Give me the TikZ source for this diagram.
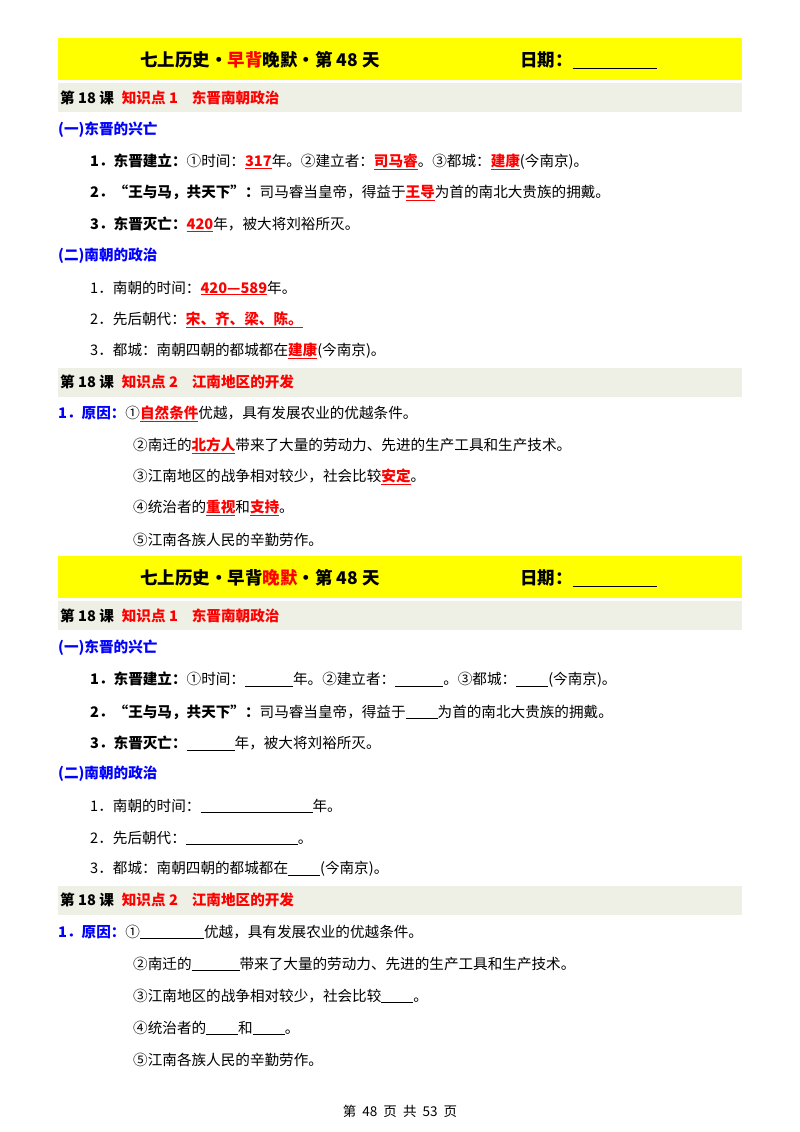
\documentclass[tikz,border=0pt]{standalone}
\usepackage{fontspec}
\setmainfont{Noto Sans CJK SC}
\definecolor{ban}{HTML}{FFFF00}
\definecolor{bar}{HTML}{EEF0E5}
\definecolor{ansred}{HTML}{FF0000}
\definecolor{hblue}{HTML}{0000FF}
\newcommand{\ans}[1]{\textcolor{ansred}{\underline{\textbf{#1}}}}
\newcommand{\blank}[1]{\underline{\hspace{#1}}}
\tikzset{
  txt/.style={anchor=west,inner sep=0pt,font=\fontsize{14.6}{16}\selectfont},
  ttl/.style={anchor=west,inner sep=0pt,font=\fontsize{17.5}{19}\selectfont\bfseries},
  hd/.style={anchor=west,inner sep=0pt,font=\fontsize{14.6}{16}\selectfont\bfseries,text=hblue},
  barbox/.style={fill=bar,draw=none},
  banbox/.style={fill=ban,draw=none}
}
\begin{document}
\begin{tikzpicture}[x=1pt,y=-1pt]
\useasboundingbox[fill=white] (0,0) rectangle (800,1132);
\foreach \o in {0,518}{
\begin{scope}[yshift=-\o pt]
\fill[banbox] (58,38) rectangle (742,80);
\node[ttl] (t\o) at (140,60) {七上历史·\ifnum\o=0 \textcolor{ansred}{早背}晚默\else 早背\textcolor{ansred}{晚默}\fi·第 48 天};
\node[ttl] (d\o) at (520,60) {日期：\blank{84pt}};
\fill[barbox] (58,83) rectangle (742,112);
\node[txt,font=\fontsize{14.6}{16}\selectfont\bfseries] (k\o) at (60,98) {第 18 课\hspace{8pt}\textcolor{ansred}{知识点 1\hspace{14pt}东晋南朝政治}};
\node[hd] (h\o) at (58,130) {(一)东晋的兴亡};
\fill[barbox] (58,368) rectangle (742,397);
\node[txt,font=\fontsize{14.6}{16}\selectfont\bfseries] (kk\o) at (60,382) {第 18 课\hspace{8pt}\textcolor{ansred}{知识点 2\hspace{14pt}江南地区的开发}};
\node[hd] (hh\o) at (58,256) {(二)南朝的政治};
\end{scope}}
% first half
\node[txt] (a1) at (90,162) {\textbf{1．东晋建立：}①时间：\ans{317}年。②建立者：\ans{司马睿}。③都城：\ans{建康}(今南京)。};
\node[txt] (a2) at (90,193) {\textbf{2．“王与马，共天下”：}司马睿当皇帝，得益于\ans{王导}为首的南北大贵族的拥戴。};
\node[txt] (a3) at (90,224) {\textbf{3．东晋灭亡：}\ans{420}年，被大将刘裕所灭。};
\node[txt] (b1) at (90,288) {1．南朝的时间：\ans{420—589}年。};
\node[txt] (b2) at (90,320) {2．先后朝代：\ans{宋、齐、梁、陈。}};
\node[txt] (b3) at (90,351) {3．都城：南朝四朝的都城都在\ans{建康}(今南京)。};
\node[txt] (c1) at (58,414) {\textcolor{hblue}{\textbf{1．原因：}}①\ans{自然条件}优越，具有发展农业的优越条件。};
\node[txt] (c2) at (133,446) {②南迁的\ans{北方人}带来了大量的劳动力、先进的生产工具和生产技术。};
\node[txt] (c3) at (133,477) {③江南地区的战争相对较少，社会比较\ans{安定}。};
\node[txt] (c4) at (133,508) {④统治者的\ans{重视}和\ans{支持}。};
\node[txt] (c5) at (133,540) {⑤江南各族人民的辛勤劳作。};
% second half
\node[txt] (e1) at (90,680) {\textbf{1．东晋建立：}①时间：\blank{48pt}年。②建立者：\blank{48pt}。③都城：\blank{32pt}(今南京)。};
\node[txt] (e2) at (90,712) {\textbf{2．“王与马，共天下”：}司马睿当皇帝，得益于\blank{32pt}为首的南北大贵族的拥戴。};
\node[txt] (e3) at (90,743) {\textbf{3．东晋灭亡：}\blank{48pt}年，被大将刘裕所灭。};
\node[txt] (f1) at (90,806) {1．南朝的时间：\blank{112pt}年。};
\node[txt] (f2) at (90,838) {2．先后朝代：\blank{112pt}。};
\node[txt] (f3) at (90,869) {3．都城：南朝四朝的都城都在\blank{32pt}(今南京)。};
\node[txt] (g1) at (58,932) {\textcolor{hblue}{\textbf{1．原因：}}①\blank{64pt}优越，具有发展农业的优越条件。};
\node[txt] (g2) at (133,964) {②南迁的\blank{48pt}带来了大量的劳动力、先进的生产工具和生产技术。};
\node[txt] (g3) at (133,996) {③江南地区的战争相对较少，社会比较\blank{32pt}。};
\node[txt] (g4) at (133,1028) {④统治者的\blank{32pt}和\blank{32pt}。};
\node[txt] (g5) at (133,1060) {⑤江南各族人民的辛勤劳作。};
\node[inner sep=0pt,font=\fontsize{13.5}{15}\selectfont] (ft) at (400,1111) {第\ \ 48\ \ 页\ \ 共\ \ 53\ \ 页};
\end{tikzpicture}
\end{document}
